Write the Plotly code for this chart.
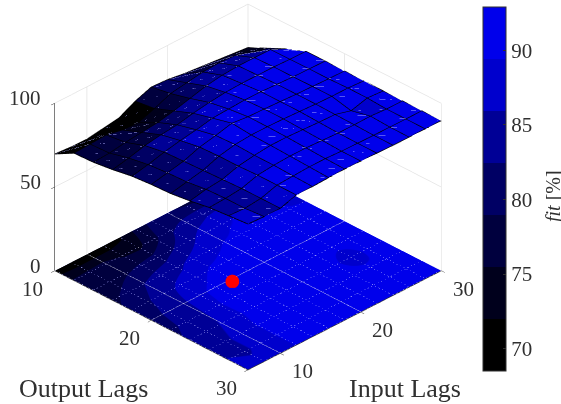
import plotly.graph_objects as go

output_lags = [10, 12, 14, 16, 18, 20, 22, 24, 26, 28, 30]
input_lags = [6, 8, 10, 12, 14, 16, 18, 20, 22, 24, 26, 28, 30]

fit = [
    [69.6, 68.8, 68.6, 70.0, 71.5, 76.5, 80.0, 79.5, 78.0, 77.0, 76.0, 75.0, 74.0],
    [76.0, 76.5, 77.0, 75.0, 74.5, 78.0, 82.0, 83.5, 85.0, 85.5, 85.0, 80.5, 79.5],
    [76.5, 77.0, 78.5, 79.5, 80.5, 82.5, 85.0, 87.5, 89.0, 89.6, 89.6, 89.5, 85.0],
    [78.0, 80.0, 82.5, 84.0, 85.0, 87.0, 88.5, 89.6, 90.0, 90.0, 90.0, 89.6, 89.5],
    [80.0, 82.0, 84.5, 86.5, 88.0, 90.0, 90.5, 91.0, 91.0, 90.5, 90.0, 89.8, 89.6],
    [81.0, 83.0, 85.0, 88.5, 90.5, 92.9, 91.8, 91.5, 91.0, 90.5, 90.2, 89.8, 89.6],
    [81.5, 83.5, 85.5, 89.0, 91.0, 91.8, 91.8, 91.5, 91.0, 90.5, 90.2, 90.2, 89.6],
    [83.0, 85.0, 86.0, 89.0, 90.5, 91.5, 91.5, 91.0, 90.5, 90.2, 87.5, 90.2, 89.5],
    [85.0, 85.5, 86.5, 89.5, 90.5, 91.0, 91.0, 90.5, 90.0, 90.0, 90.2, 89.5, 89.5],
    [86.0, 85.5, 86.5, 89.5, 90.0, 90.5, 90.5, 90.0, 89.8, 89.6, 89.6, 89.5, 89.5],
    [87.0, 86.5, 86.5, 89.5, 89.6, 90.0, 90.2, 90.0, 89.8, 89.6, 89.5, 89.5, 89.5],
]

best_output = [20]
best_input = [16]

fit_min = 68.5
fit_max = 92.9
band_blues = [0, 28, 62, 100, 150, 205, 235]
z_ticks = [0, 50, 100]
out_ticks = [10, 20, 30]
in_ticks = [10, 20, 30]
bar_ticks = [70, 75, 80, 85, 90]

FONT = "Liberation Serif"
INK = "#303030"
n = len(band_blues)
scale = []
for k, b in enumerate(band_blues):
    scale.append([k / n, f"rgb(0,0,{b})"])
    scale.append([(k + 1) / n, f"rgb(0,0,{b})"])


def band_color(v):
    k = int((v - fit_min) / (fit_max - fit_min) * n)
    k = max(0, min(n - 1, k))
    return f"rgb(0,0,{band_blues[k]})"


px, py, pz, ti, tj, tk, fc = [], [], [], [], [], [], []
nr, nc = len(output_lags), len(input_lags)
for r in range(nr):
    for c in range(nc):
        px.append(output_lags[r]); py.append(input_lags[c]); pz.append(fit[r][c])
for r in range(nr - 1):
    for c in range(nc - 1):
        a = r * nc + c
        b = a + 1
        d = a + nc
        e = d + 1
        ti += [a, a]; tj += [b, e]; tk += [e, d]
        col = band_color(fit[r][c])
        fc += [col, col]


def grid_lines(height):
    lx, ly, lz = [], [], []
    for r in range(nr):
        for c in range(nc):
            lx.append(output_lags[r]); ly.append(input_lags[c]); lz.append(height(r, c))
        lx.append(None); ly.append(None); lz.append(None)
    for c in range(nc):
        for r in range(nr):
            lx.append(output_lags[r]); ly.append(input_lags[c]); lz.append(height(r, c))
        lx.append(None); ly.append(None); lz.append(None)
    return lx, ly, lz


dx, dy, dz = [], [], []
for r in range(nr - 1):
    for c in range(nc - 1):
        dx += [output_lags[r], output_lags[r + 1], None]
        dy += [input_lags[c], input_lags[c + 1], None]
        dz += [fit[r][c] + 0.1, fit[r + 1][c + 1] + 0.1, None]

flat = dict(ambient=1, diffuse=0, specular=0, roughness=1, fresnel=0)
fig = go.Figure()
fig.add_trace(go.Surface(
    x=output_lags, y=input_lags,
    z=[[0] * nr for _ in range(nc)],
    surfacecolor=[[fit[r][c] for r in range(nr)] for c in range(nc)],
    colorscale=scale, cmin=fit_min, cmax=fit_max, lighting=flat, hoverinfo="skip",
    colorbar=dict(
        x=483 / 561, xanchor="left", xpad=0, y=1 - 7 / 404, yanchor="top", ypad=0,
        lenmode="pixels", len=364, thicknessmode="pixels", thickness=23,
        outlinecolor=INK, outlinewidth=1, tickvals=bar_ticks, ticks="inside", ticklen=3,
        tickcolor=INK, tickfont=dict(family=FONT, size=21, color=INK),
    ),
))
fig.add_trace(go.Mesh3d(x=px, y=py, z=pz, i=ti, j=tj, k=tk, facecolor=fc,
                        flatshading=True, lighting=flat, showscale=False, hoverinfo="skip"))
lx, ly, lz = grid_lines(lambda r, c: fit[r][c] + 0.1)
fig.add_trace(go.Scatter3d(x=lx, y=ly, z=lz, mode="lines", line=dict(color="black", width=1.6),
                           showlegend=False, hoverinfo="skip"))
fig.add_trace(go.Scatter3d(x=dx, y=dy, z=dz, mode="lines",
                           line=dict(color="rgba(170,170,255,0.3)", width=1),
                           showlegend=False, hoverinfo="skip"))
fx, fy, fz = grid_lines(lambda r, c: 0.2)
fig.add_trace(go.Scatter3d(x=fx, y=fy, z=fz, mode="lines",
                           line=dict(color="rgba(170,170,240,0.4)", width=1),
                           showlegend=False, hoverinfo="skip"))
# lift the dot towards the viewer so the floor does not cut it; same place on screen
fig.add_trace(go.Scatter3d(x=[best_output[0] + 0.74], y=[best_input[0] - 0.85], z=[2.9], mode="markers",
                           marker=dict(color="red", size=8, line=dict(width=0)),
                           showlegend=False, hoverinfo="skip"))

axis = dict(showbackground=False, showspikes=False, zeroline=False, showline=True,
            linecolor=INK, linewidth=1.5, gridcolor="#e2e2e2", gridwidth=1.5, ticks="outside",
            ticklen=5, tickcolor=INK, showticklabels=False, title=dict(text=""))
tf = dict(family=FONT, size=21, color=INK)
labels = []
for v in z_ticks:
    labels.append(dict(x=10, y=6, z=v, text=str(v), showarrow=False, font=tf, xanchor="right",
                       xshift=-12, yshift=5))
for v in out_ticks:
    labels.append(dict(x=v, y=6, z=0, text=str(v), showarrow=False, font=tf, xshift=-22, yshift=-18))
for v in in_ticks:
    labels.append(dict(x=30, y=v, z=0, text=str(v), showarrow=False, font=tf, xshift=22, yshift=-18))

lab = dict(family=FONT, size=26, color=INK)
fig.update_layout(
    width=561, height=404, margin=dict(l=0, r=0, t=0, b=0), paper_bgcolor="white",
    showlegend=False,
    scene=dict(
        domain=dict(x=[0, 496 / 561], y=[30 / 404, 1]),
        xaxis=dict(axis, range=[10, 30], tickvals=out_ticks),
        yaxis=dict(axis, range=[6, 30], tickvals=in_ticks),
        zaxis=dict(axis, range=[0, 100], tickvals=z_ticks),
        aspectmode="manual", aspectratio=dict(x=1.462, y=1.462, z=1.043),
        camera=dict(projection=dict(type="orthographic"),
                    eye=dict(x=0.87, y=-0.87, z=0.735), up=dict(x=0, y=0, z=1),
                    center=dict(x=0, y=0, z=0)),
        annotations=labels,
    ),
    annotations=[
        dict(text="Output Lags", x=83 / 561, y=1 - 388 / 404, xref="paper", yref="paper",
             xanchor="center", yanchor="middle", showarrow=False, font=lab),
        dict(text="Input Lags", x=405 / 561, y=1 - 388 / 404, xref="paper", yref="paper",
             xanchor="center", yanchor="middle", showarrow=False, font=lab),
        dict(text="<i>fit</i> [%]", x=553 / 561, y=1 - 196 / 404, xref="paper", yref="paper",
             xanchor="center", yanchor="middle", textangle=-90, showarrow=False,
             font=dict(family=FONT, size=20, color=INK)),
    ],
)
fig.write_html("out.html", post_script="document.body.style.margin='0';",
               config={"displayModeBar": False})
